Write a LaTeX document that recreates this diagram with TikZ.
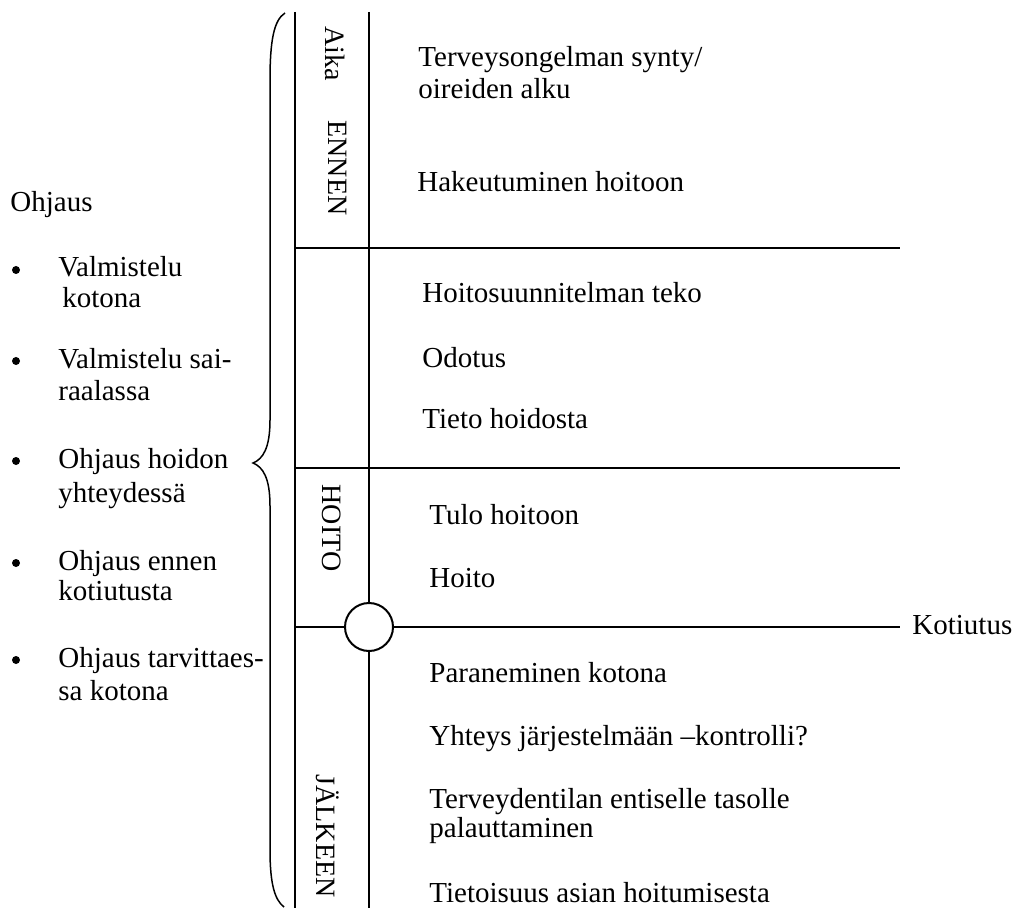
\documentclass[tikz,border=0pt]{standalone}
\usepackage{fontspec}
\setmainfont{Liberation Serif}
\begin{document}
\begin{tikzpicture}[x=0.5pt,y=-0.5pt,
  rule/.style={line width=1pt},
  txt/.style={anchor=base west,inner sep=0pt,font=\fontsize{14.5}{17}\selectfont},
  vlabel/.style={rotate=-90,inner sep=0pt,font=\fontsize{14}{16}\selectfont},
  dot/.style={fill=black}]
\useasboundingbox (0,0) rectangle (1020,908);

% timeline frame
\coordinate (ltop) at (295,12);
\coordinate (lbot) at (295,908);
\coordinate (rtop) at (369,12);
\coordinate (rbot) at (369,908);
\node[circle,draw,line width=1pt,minimum size=24pt,inner sep=0pt] (kot) at (369,627) {};
\draw[rule] (ltop) -- (lbot);
\draw[rule] (rtop) -- (kot.north);
\draw[rule] (kot.south) -- (rbot);

\coordinate (h1a) at (295,248); \coordinate (h1b) at (900,248);
\coordinate (h2a) at (295,468); \coordinate (h2b) at (900,468);
\coordinate (h3a) at (295,627); \coordinate (h3b) at (900,627);
\draw[rule] (h1a) -- (h1b);
\draw[rule] (h2a) -- (h2b);
\draw[rule] (h3a) -- (kot.west);
\draw[rule] (kot.east) -- (h3b);
\node[txt] (kotiutus) at (912,634) {Kotiutus};

% curly brace
\draw[line width=0.75pt] (285,13) .. controls (274,20) and (270,40) .. (270,80)
  -- (270,420) .. controls (270,448) and (263,459) .. (253,463)
  .. controls (263,467) and (270,478) .. (270,506)
  -- (270,850) .. controls (270,885) and (275,900) .. (284,907);

% phase labels
\node[vlabel] (aika) at (335,54) {Aika};
\node[vlabel] (ennen) at (338,168) {ENNEN};
\node[vlabel] (hoito) at (332,528) {HOITO};
\node[vlabel] (jalkeen) at (328,836) {JÄLKEEN};

% events
\node[txt] (e1a) at (418,67) {Terveysongelman synty/};
\node[txt] (e1b) at (418,99) {oireiden alku};
\node[txt] (e2) at (417,192) {Hakeutuminen hoitoon};
\node[txt] (e3) at (422,303) {Hoitosuunnitelman teko};
\node[txt] (e4) at (422,367) {Odotus};
\node[txt] (e5) at (422,428) {Tieto hoidosta};
\node[txt] (e6) at (429,524) {Tulo hoitoon};
\node[txt] (e7) at (429,587) {Hoito};
\node[txt] (e8) at (429,682) {Paraneminen kotona};
\node[txt] (e9) at (429,745) {Yhteys järjestelmään –kontrolli?};
\node[txt] (e10a) at (429,808) {Terveydentilan entiselle tasolle};
\node[txt] (e10b) at (429,837) {palauttaminen};
\node[txt] (e11) at (429,902) {Tietoisuus asian hoitumisesta};

% guidance list
\node[txt] (ohj) at (10,212) {Ohjaus};
\fill[dot] (16,270) circle (4);
\node[txt] (o1a) at (58,277) {Valmistelu};
\node[txt] (o1b) at (62,308) {kotona};
\fill[dot] (16,361) circle (4);
\node[txt] (o2a) at (58,368) {Valmistelu sai-};
\node[txt] (o2b) at (58,400) {raalassa};
\fill[dot] (16,461) circle (4);
\node[txt] (o3a) at (58,468) {Ohjaus hoidon};
\node[txt] (o3b) at (58,502) {yhteydessä};
\fill[dot] (16,563) circle (4);
\node[txt] (o4a) at (58,570) {Ohjaus ennen};
\node[txt] (o4b) at (58,600) {kotiutusta};
\fill[dot] (16,660) circle (4);
\node[txt] (o5a) at (58,667) {Ohjaus tarvittaes-};
\node[txt] (o5b) at (58,700) {sa kotona};
\end{tikzpicture}
\end{document}
